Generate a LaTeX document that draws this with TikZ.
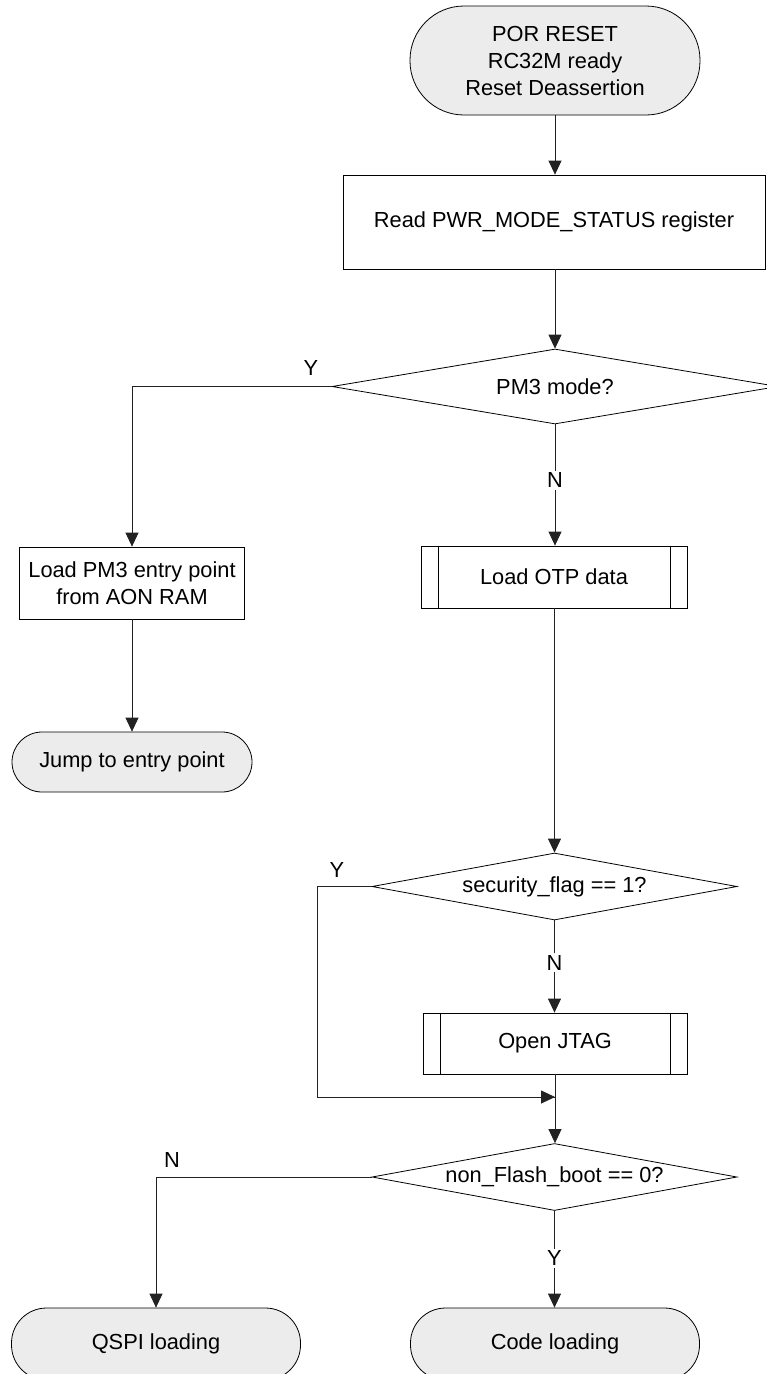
\documentclass[tikz,border=0pt]{standalone}
\usepackage{fontspec}
\setmainfont{Liberation Sans}
\usetikzlibrary{shapes.geometric,arrows.meta,calc}
\definecolor{termfill}{HTML}{ECECEC}
\definecolor{linecol}{HTML}{222222}
\begin{document}
\begin{tikzpicture}[x=1pt,y=-1pt,
  font=\fontsize{21.8}{27}\selectfont,
  base/.style={draw=black,line width=0.8pt,inner sep=0pt,align=center},
  term/.style={base,fill=termfill,rectangle},
  procbox/.style={base,rectangle},
  predef/.style={base,rectangle,
    path picture={
      \draw[line width=0.8pt] ([xshift=17pt]path picture bounding box.north west) -- ([xshift=17pt]path picture bounding box.south west);
      \draw[line width=0.8pt] ([xshift=-17pt]path picture bounding box.north east) -- ([xshift=-17pt]path picture bounding box.south east);}},
  decision/.style={base,diamond,shape aspect=5},
  lbl/.style={inner sep=2pt,fill=white},
  conn/.style={draw=linecol,line width=0.8pt,-{Triangle[length=14pt,width=13pt]}},
  plain/.style={draw=linecol,line width=0.8pt}
]
\useasboundingbox (0,0) rectangle (767,1374);
\clip (0,0) rectangle (767,1374);
\fill[white] (0,0) rectangle (767,1374);

% nodes
\node[term,rounded corners=54pt,minimum width=290pt,minimum height=109pt] (por) at (555,60.5) {POR RESET\\RC32M ready\\Reset Deassertion};
\node[procbox,minimum width=422pt,minimum height=94pt] (read) at (554,222) {Read PWR\_MODE\_STATUS register};
\node[decision,minimum width=446pt,minimum height=75pt] (pm3) at (555,386.5) {};
\node (pm3t) at (555,386.5) {PM3 mode?};
\node[procbox,minimum width=225pt,minimum height=72pt] (pmbox) at (132,583) {Load PM3 entry point\\from AON RAM};
\node[term,rounded corners=30pt,minimum width=240pt,minimum height=60pt] (jump) at (132,762) {Jump to entry point};
\node[predef,minimum width=266pt,minimum height=62pt] (otp) at (554,577) {Load OTP data};
\node[decision,minimum width=365pt,minimum height=67pt] (sec) at (554.5,886.5) {};
\node (sect) at (554.5,886.5) {security\_flag == 1?};
\node[predef,minimum width=264pt,minimum height=61pt] (jtag) at (555,1043.5) {Open JTAG};
\coordinate (merge) at (555,1097);
\node[decision,minimum width=365pt,minimum height=67pt] (nf) at (554.5,1177) {};
\node (nft) at (554.5,1177) {non\_Flash\_boot == 0?};
\node[term,rounded corners=35pt,minimum width=289pt,minimum height=72pt] (qspi) at (156,1344) {QSPI loading};
\node[term,rounded corners=35pt,minimum width=289pt,minimum height=72pt] (code) at (555,1344) {Code loading};

% connectors
\draw[conn] (por.south) -- (read.north -| por.south);
\draw[conn] (read.south -| pm3.north) -- (pm3.north);
\draw[conn] (pm3.west) -| (pmbox.north);
\node at (311,368) {Y};
\draw[conn] (pmbox.south) -- (jump.north);
\draw[conn] (pm3.south) -- (otp.north -| pm3.south) node[lbl,pos=0.46] {N};
\draw[conn] (otp.south -| sec.north) -- (sec.north);
\draw[plain] (sec.west) -- ++(-54,0) coordinate (secl) |- (merge);
\draw[conn] (secl |- merge) -- (merge);
\node at (337,870) {Y};
\draw[conn] (sec.south) -- (jtag.north -| sec.south) node[lbl,pos=0.46] {N};
\draw[conn] (jtag.south) -- (nf.north -| jtag.south);
\draw[conn] (nf.west) -| (qspi.north);
\node at (172,1160) {N};
\draw[conn] (nf.south) -- (code.north -| nf.south) node[lbl,pos=0.49] {Y};
\end{tikzpicture}
\end{document}
